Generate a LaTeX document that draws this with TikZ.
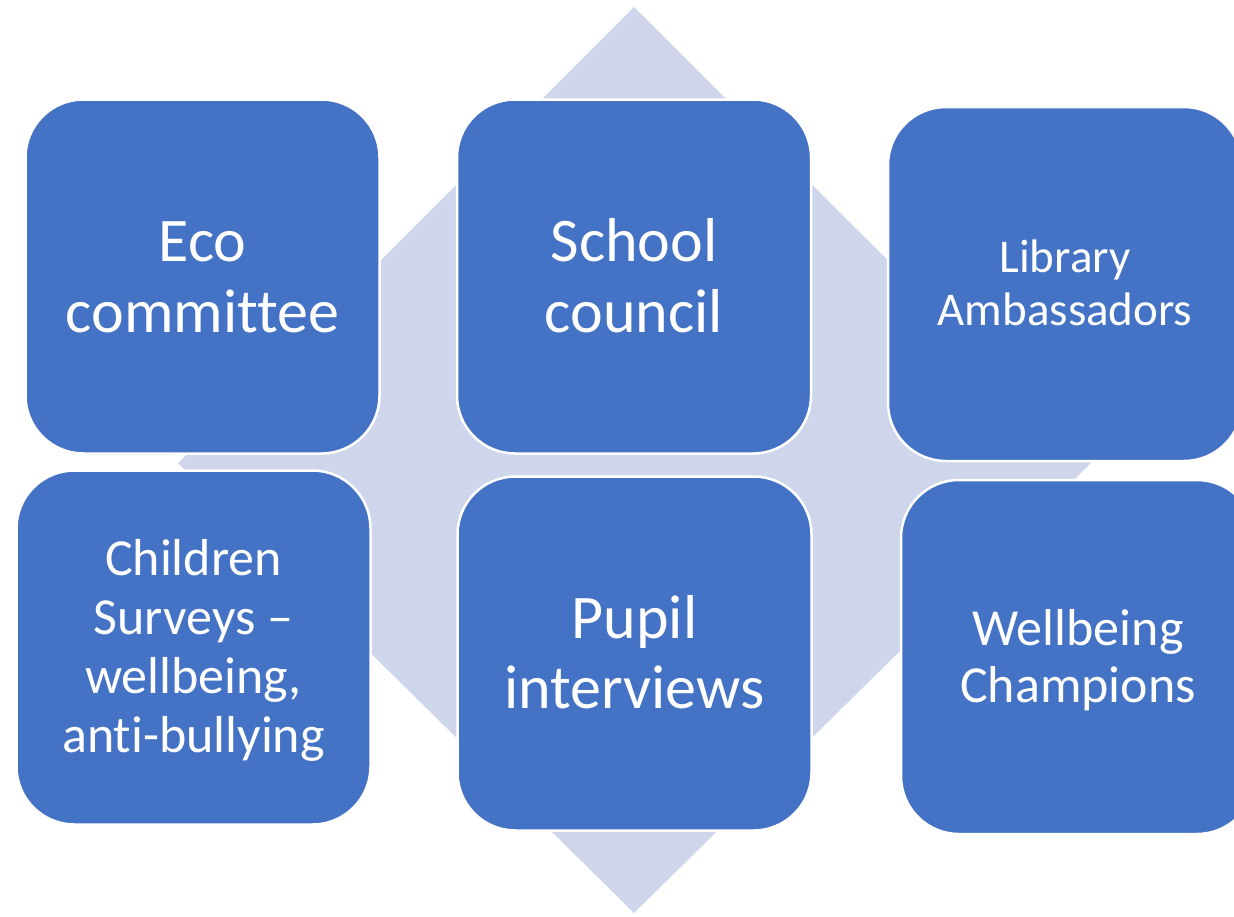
\documentclass[tikz,border=0pt]{standalone}
\usepackage{fontspec}
\setmainfont{Carlito}[Ligatures=NoCommon]
\definecolor{boxblue}{HTML}{4472C4}
\definecolor{diamondfill}{HTML}{CFD5EA}
\begin{document}
\begin{tikzpicture}[x=1pt,y=-1pt,
  card/.style={draw=white, line width=2.5pt, fill=boxblue, rounded corners=58pt,
    minimum width=354pt, minimum height=354pt, inner sep=0pt, text=white, align=center, text depth=0pt},
  big/.style={font=\fontsize{62}{71}\selectfont, text height=111pt},
]
\useasboundingbox (0,0) rectangle (1234,916);
\clip (0,0) rectangle (1234,916);
\fill[diamondfill] (634,7) -- (1091,463) -- (634,913) -- (178,463) -- cycle;
\node[card, big] (eco) at (202.5,276.5) {Eco\\committee};
\node[card, big] (school) at (634,276.5) {School\\council};
\node[card, font=\fontsize{47}{53}\selectfont, text height=83pt] (library) at (1065,284) {Library\\Ambassadors};
\node[card, font=\fontsize{52}{59}\selectfont, text height=210.5pt] (children) at (193.5,647.5) {Children\\Surveys –\\wellbeing,\\anti-bullying};
\node[card, font=\fontsize{62}{70}\selectfont, text height=110pt] (pupil) at (634.5,653.5) {Pupil\\interviews};
\node[card, font=\fontsize{52}{57}\selectfont, text height=90.5pt] (wellbeing) at (1078,657) {Wellbeing\\Champions};
\end{tikzpicture}
\end{document}
